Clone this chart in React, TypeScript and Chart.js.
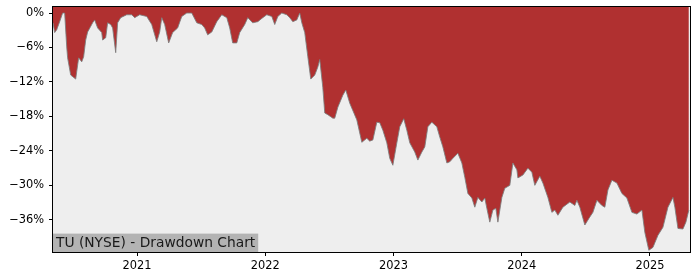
import React, { useEffect, useRef } from "react";
import { Chart, registerables } from "chart.js";

Chart.register(...registerables);

// Decimal-year dates
const dates: number[] = [
  2020.345, 2020.358, 2020.374, 2020.397, 2020.42, 2020.436, 2020.452, 2020.459, 2020.483, 2020.522,
  2020.53, 2020.545, 2020.569, 2020.584, 2020.6, 2020.615, 2020.654, 2020.67, 2020.693, 2020.725,
  2020.732, 2020.756, 2020.771, 2020.795, 2020.81, 2020.834, 2020.849, 2020.873, 2020.92, 2020.959,
  2020.982, 2021.021, 2021.076, 2021.115, 2021.154, 2021.177, 2021.193, 2021.216, 2021.247, 2021.278,
  2021.317, 2021.349, 2021.388, 2021.427, 2021.466, 2021.505, 2021.528, 2021.551, 2021.583, 2021.622,
  2021.661, 2021.7, 2021.723, 2021.746, 2021.778, 2021.801, 2021.84, 2021.864, 2021.902, 2021.942,
  2021.981, 2022.012, 2022.051, 2022.074, 2022.098, 2022.129, 2022.168, 2022.191, 2022.215, 2022.246,
  2022.269, 2022.285, 2022.308, 2022.332, 2022.355, 2022.386, 2022.41, 2022.425, 2022.449, 2022.464,
  2022.488, 2022.527, 2022.542, 2022.566, 2022.605, 2022.628, 2022.659, 2022.714, 2022.753, 2022.792,
  2022.815, 2022.839, 2022.87, 2022.893, 2022.917, 2022.948, 2022.971, 2022.995, 2023.026, 2023.049,
  2023.08, 2023.104, 2023.127, 2023.166, 2023.19, 2023.221, 2023.244, 2023.268, 2023.299, 2023.338,
  2023.361, 2023.385, 2023.416, 2023.439, 2023.463, 2023.502, 2023.533, 2023.556, 2023.58, 2023.611,
  2023.634, 2023.658, 2023.689, 2023.712, 2023.728, 2023.751, 2023.775, 2023.798, 2023.814, 2023.845,
  2023.868, 2023.907, 2023.931, 2023.962, 2023.97, 2024.009, 2024.048, 2024.079, 2024.102, 2024.141,
  2024.165, 2024.204, 2024.235, 2024.258, 2024.282, 2024.321, 2024.375, 2024.414, 2024.43, 2024.453,
  2024.492, 2024.531, 2024.555, 2024.586, 2024.625, 2024.648, 2024.672, 2024.703, 2024.742, 2024.781,
  2024.82, 2024.859, 2024.898, 2024.937, 2024.96, 2024.991, 2025.023, 2025.062, 2025.101, 2025.14,
  2025.179, 2025.194, 2025.218, 2025.257, 2025.28, 2025.303,
];

// Drawdown in percent
const drawdown: number[] = [
  -1.7, -3.4, -2.9, -1.5, 0, 0, -5.9, -7.8, -10.8, -11.5,
  -10.2, -7.8, -8.5, -7.6, -4.7, -3.3, -1.7, -1.2, -2.6, -3.4,
  -4.7, -4.3, -1.7, -2.0, -2.6, -6.9, -1.7, -0.8, -0.3, -0.3,
  -0.8, -0.3, -0.6, -2.0, -5.0, -3.3, -0.8, -2.0, -5.2, -3.4,
  -2.6, -0.6, 0, 0, -1.7, -2.0, -2.6, -3.8, -3.3, -1.5,
  -0.3, -0.8, -2.6, -5.2, -5.2, -3.4, -2.0, -0.8, -1.7, -1.5,
  -0.8, -0.3, -0.6, -2.0, -0.6, 0, -0.3, -0.8, -1.5, -1.2,
  0, -1.7, -3.4, -7.6, -11.5, -10.8, -9.4, -8.1, -13.0, -17.4,
  -17.7, -18.3, -18.3, -16.4, -14.3, -13.4, -15.7, -18.6, -22.5, -21.8,
  -22.3, -22.1, -19.0, -19.1, -20.4, -22.6, -25.3, -26.5, -22.6, -19.8,
  -18.4, -20.4, -22.6, -24.2, -25.6, -24.2, -23.3, -19.8, -19.0, -19.8,
  -21.6, -23.3, -26.1, -25.9, -25.3, -24.4, -26.1, -28.6, -31.4, -32.2,
  -33.8, -32.1, -32.9, -32.2, -34.0, -36.4, -34.3, -34.0, -36.4, -32.1,
  -30.5, -30.0, -26.1, -27.3, -28.7, -28.2, -27.0, -27.7, -30.0, -28.4,
  -29.6, -32.1, -34.7, -34.3, -35.2, -33.8, -32.9, -33.5, -32.6, -33.8,
  -36.9, -35.5, -34.7, -32.6, -33.5, -33.8, -30.8, -29.1, -29.6, -31.4,
  -32.2, -34.7, -35.0, -34.3, -38.2, -41.3, -40.8, -38.7, -37.3, -33.8,
  -32.1, -33.8, -37.5, -37.6, -36.4, -34.3,
];

const yTicks: number[] = [0, -6, -12, -18, -24, -30, -36];
const xTicks: number[] = [2021, 2022, 2023, 2024, 2025];
const labelText = "TU (NYSE) - Drawdown Chart";

const FONT = "'DejaVu Sans', sans-serif";

export default function App() {
  const ref = useRef<HTMLCanvasElement | null>(null);

  useEffect(() => {
    if (!ref.current) return;
    const bgPlugin = {
      id: "bg",
      beforeDatasetsDraw(chart: any) {
        const { ctx, chartArea: a } = chart;
        ctx.save();
        ctx.fillStyle = "#eeeeee";
        ctx.fillRect(a.left, a.top, a.right - a.left, a.bottom - a.top);
        ctx.restore();
      },
      afterDatasetsDraw(chart: any) {
        const { ctx, chartArea: a } = chart;
        ctx.save();
        ctx.font = `13.8px ${FONT}`;
        const w = ctx.measureText(labelText).width;
        const h = 18.4;
        ctx.fillStyle = "#b3b3b3";
        ctx.fillRect(a.left, a.bottom - h, w + 6, h);
        ctx.fillStyle = "#1a1a1a";
        ctx.textBaseline = "alphabetic";
        ctx.textAlign = "left";
        ctx.fillText(labelText, a.left + 3, a.bottom - 5);
        ctx.restore();
      },
      afterDraw(chart: any) {
        const { ctx, chartArea: a } = chart;
        ctx.save();
        ctx.strokeStyle = "#000";
        ctx.lineWidth = 1;
        ctx.strokeRect(
          Math.round(a.left) - 0.5,
          Math.round(a.top) - 0.5,
          Math.round(a.right - a.left) + 1,
          Math.round(a.bottom - a.top) + 1
        );
        ctx.restore();
      },
    };

    const chart = new Chart(ref.current, {
      type: "line",
      data: {
        datasets: [
          {
            data: dates.map((d, i) => ({ x: d, y: drawdown[i] })),
            borderColor: "rgba(125,125,125,0.85)",
            borderWidth: 1,
            backgroundColor: "#b03030",
            fill: "end",
            pointRadius: 0,
            tension: 0,
          },
        ],
      },
      options: {
        animation: false,
        responsive: false,
        devicePixelRatio: 1,
        layout: { padding: { top: 7, right: 10, left: 0, bottom: 0 } },
        plugins: {
          legend: { display: false },
          tooltip: { enabled: false },
          title: { display: false },
        },
        scales: {
          x: {
            type: "linear",
            min: 2020.345,
            max: 2025.312,
            afterBuildTicks: (s: any) => {
              s.ticks = xTicks.map((v) => ({ value: v }));
            },
            afterFit: (s: any) => {
              s.height = 28;
              s.paddingLeft = 0;
              s.paddingRight = 0;
            },
            ticks: {
              callback: (v: any) => String(v),
              font: { family: FONT, size: 11.4 },
              color: "#000",
              padding: 3.5,
              maxRotation: 0,
              autoSkip: false,
            },
            grid: { drawOnChartArea: false, drawTicks: true, tickLength: 4, color: "#000" },
            border: { display: false },
          },
          y: {
            type: "linear",
            min: -41.6,
            max: 1.05,
            afterBuildTicks: (s: any) => {
              s.ticks = yTicks.map((v) => ({ value: v }));
            },
            afterFit: (s: any) => {
              s.width = 53;
              s.paddingTop = 0;
              s.paddingBottom = 0;
            },
            ticks: {
              callback: (v: any) => (v < 0 ? "\u2212" + Math.abs(v) : String(v)) + "%",
              font: { family: FONT, size: 11.4 },
              color: "#000",
              padding: 5,
              autoSkip: false,
            },
            grid: { drawOnChartArea: false, drawTicks: true, tickLength: 4, color: "#000" },
            border: { display: false },
          },
        },
      },
      plugins: [bgPlugin],
    });
    return () => chart.destroy();
  }, []);

  return (
    <div style={{ position: "fixed", left: 0, top: 0, width: 700, height: 280, background: "#fff" }}>
      <canvas ref={ref} width={700} height={280} style={{ width: 700, height: 280 }} />
    </div>
  );
}
